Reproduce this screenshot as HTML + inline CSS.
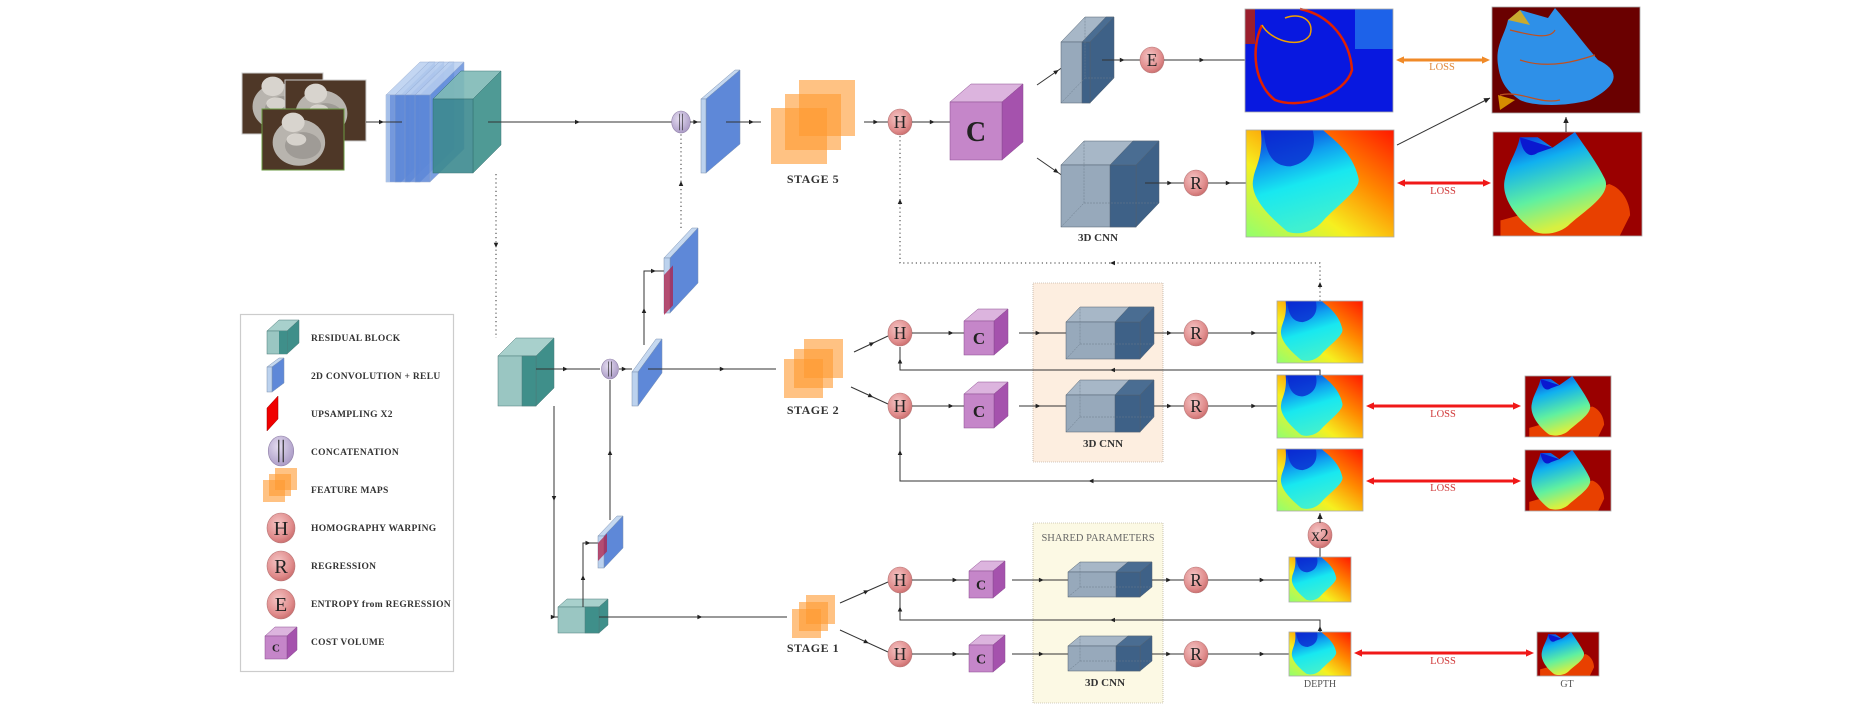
<!DOCTYPE html>
<html><head><meta charset="utf-8">
<style>
html,body{margin:0;padding:0;background:#fff;width:1872px;height:708px;overflow:hidden}
svg{display:block}
text{font-family:"Liberation Serif",serif}
.lg{font-size:9.5px;font-weight:bold;fill:#333;letter-spacing:0.3px}
.st{font-size:12px;font-weight:bold;fill:#333;letter-spacing:0.5px}
.cn{font-size:11px;font-weight:bold;fill:#333}
.loss{font-size:10.5px;fill:#d03838}
.nd{font-size:19px;fill:#222}
</style></head>
<body>
<svg id="s" width="1872" height="708" viewBox="0 0 1872 708" xmlns="http://www.w3.org/2000/svg">
<defs>
<radialGradient id="rg" cx="0.4" cy="0.35" r="0.7"><stop offset="0" stop-color="#f4c4c4"/><stop offset="0.7" stop-color="#e08c8c"/><stop offset="1" stop-color="#c86a6a"/></radialGradient>
<radialGradient id="pg" cx="0.4" cy="0.35" r="0.7"><stop offset="0" stop-color="#e4dcf0"/><stop offset="1" stop-color="#a898c4"/></radialGradient>
<linearGradient id="bgd" x1="1" y1="0" x2="0" y2="1"><stop offset="0" stop-color="#ff1800"/><stop offset="0.35" stop-color="#ff8a00"/><stop offset="0.65" stop-color="#f6f020"/><stop offset="1" stop-color="#90ff70"/></linearGradient>
<linearGradient id="blb" x1="0" y1="0" x2="0.3" y2="1"><stop offset="0" stop-color="#0a20d8"/><stop offset="0.35" stop-color="#10a0f0"/><stop offset="0.6" stop-color="#18e8f0"/><stop offset="1" stop-color="#40f0d0"/></linearGradient>
<linearGradient id="blg" x1="0" y1="0" x2="0.3" y2="1"><stop offset="0" stop-color="#0a20d8"/><stop offset="0.35" stop-color="#10b0f0"/><stop offset="0.7" stop-color="#60f0a0"/><stop offset="1" stop-color="#d8f040"/></linearGradient>
<symbol id="dep" viewBox="0 0 100 100" preserveAspectRatio="none">
<rect width="100" height="100" fill="url(#bgd)"/>
<path d="M10,0 L52,0 C58,8 72,20 76,45 C78,55 62,70 52,85 C46,95 36,99 28,95 C15,80 2,62 5,45 C6,35 12,25 10,0 Z" fill="url(#blb)"/>
<path d="M12,0 L45,0 C48,15 44,30 30,34 C18,34 13,22 12,0 Z" fill="#0a28d0" opacity="0.8"/>
</symbol>
<symbol id="gt" viewBox="0 0 100 100" preserveAspectRatio="none">
<rect width="100" height="100" fill="#9a0000"/>
<path d="M78,50 C88,55 92,70 92,80 L85,100 L5,100 L5,85 C20,80 60,60 78,50Z" fill="#e84000"/>
<path d="M18,5 L30,5 L40,15 L55,0 C62,15 70,30 75,45 C80,60 62,75 52,88 C46,97 36,100 28,96 C15,82 5,62 8,45 C10,30 16,20 18,5 Z" fill="url(#blg)"/>
<path d="M18,5 L40,15 L30,20 C25,25 20,22 18,5Z" fill="#0a18d0"/>
</symbol>
</defs>
<g id="g"></g>
<!-- texts -->
<text class="st" x="813" y="183" text-anchor="middle">STAGE 5</text>
<text class="st" x="813" y="414" text-anchor="middle">STAGE 2</text>
<text class="st" x="813" y="652" text-anchor="middle">STAGE 1</text>
<text class="cn" x="1098" y="241" text-anchor="middle">3D CNN</text>
<text class="cn" x="1103" y="447" text-anchor="middle">3D CNN</text>
<text class="cn" x="1105" y="686" text-anchor="middle">3D CNN</text>
<text class="loss" x="1442" y="70" text-anchor="middle" style="fill:#e0883a">LOSS</text>
<text class="loss" x="1443" y="194" text-anchor="middle">LOSS</text>
<text class="loss" x="1443" y="417" text-anchor="middle">LOSS</text>
<text class="loss" x="1443" y="491" text-anchor="middle">LOSS</text>
<text class="loss" x="1443" y="664" text-anchor="middle">LOSS</text>
<text x="1098" y="541" text-anchor="middle" style="font-size:10.5px;fill:#666">SHARED PARAMETERS</text>
<text x="1320" y="687" text-anchor="middle" style="font-size:10px;fill:#555">DEPTH</text>
<text x="1567" y="687" text-anchor="middle" style="font-size:10px;fill:#555">GT</text>
<text class="lg" x="311" y="341">RESIDUAL BLOCK</text>
<text class="lg" x="311" y="379">2D CONVOLUTION + RELU</text>
<text class="lg" x="311" y="417">UPSAMPLING X2</text>
<text class="lg" x="311" y="455">CONCATENATION</text>
<text class="lg" x="311" y="493">FEATURE MAPS</text>
<text class="lg" x="311" y="531">HOMOGRAPHY WARPING</text>
<text class="lg" x="311" y="569">REGRESSION</text>
<text class="lg" x="311" y="607">ENTROPY from REGRESSION</text>
<text class="lg" x="311" y="645">COST VOLUME</text>
<g id="t"></g>
</svg>
<script>
var o='',t='';
function P(pts,f,ex){return '<polygon points="'+pts.map(function(p){return p[0]+','+p[1]}).join(' ')+'" fill="'+f+'" '+(ex||'')+'/>';}
function box(x,y,w,h,dx,dy,fr,tp,sd,st,op){
 st=st||'#556'; var a='stroke="'+st+'" stroke-width="0.5" '+(op?'opacity="'+op+'"':'');
 return P([[x,y],[x+dx,y-dy],[x+w+dx,y-dy],[x+w,y]],tp,a)+P([[x+w,y],[x+w+dx,y-dy],[x+w+dx,y+h-dy],[x+w,y+h]],sd,a)+'<rect x="'+x+'" y="'+y+'" width="'+w+'" height="'+h+'" fill="'+fr+'" '+a+'/>';
}
function cnn(x,y,w,h,dx,dy,wl){
 var s=box(x,y,w,h,dx,dy,'#97a9bb','#a7b7c7','#3e6187','#506070');
 s+='<rect x="'+(x+wl)+'" y="'+y+'" width="'+(w-wl)+'" height="'+h+'" fill="#3e6187" stroke="#506070" stroke-width="0.5"/>';
 s+=P([[x+wl,y],[x+wl+dx,y-dy],[x+w+dx,y-dy],[x+w,y]],'#4a6d92','stroke="#506070" stroke-width="0.5"');
 s+='<path d="M'+x+','+(y+h)+' l'+dx+','+(-dy)+' l0,'+(-h)+' M'+(x+dx)+','+(y+h-dy)+' l'+w+',0" stroke="#6a7a8a" stroke-width="0.5" stroke-dasharray="2,1" fill="none"/>';
 return s;
}
function cv(x,y,w,h,dx,dy,fs){
 var s=box(x,y,w,h,dx,dy,'#c586c9','#dcb4de','#a552ad','#8a4a90');
 t+='<text x="'+(x+w/2)+'" y="'+(y+h/2+fs*0.35)+'" text-anchor="middle" style="font-size:'+fs+'px;font-weight:bold;fill:#222;font-family:Liberation Serif,serif">C</text>';
 return s;
}
function conv(x,y,w,h,dx,dy){return box(x,y,w,h,dx,dy,'#bcd2ee','#c5d8f0','#5e88d8','#7a90b0');}
function up(x,y,h,dx,dy,rx,ry,rw,rh){
 var s=conv(x,y,6,h,dx,dy);
 s+=P([[rx,ry],[rx+rw,ry-rw*dy/dx],[rx+rw,ry-rw*dy/dx+rh],[rx,ry+rh]],'#b02048','opacity="0.75"');
 return s;
}
function fm(x,y,s,d){var r='';for(var i=0;i<3;i++)r+='<rect x="'+(x+i*d)+'" y="'+(y-i*d)+'" width="'+s+'" height="'+s+'" fill="#ff9a30" opacity="0.6"/>';return r;}
function node(x,y,L,r,fill){fill=fill||'url(#rg)';r=r||12;
 t+='<text x="'+x+'" y="'+(y+r*0.5)+'" text-anchor="middle" style="font-size:'+(r*1.45)+'px;fill:#222;font-family:Liberation Serif,serif">'+L+'</text>';
 return '<ellipse cx="'+x+'" cy="'+y+'" rx="'+r+'" ry="'+(r+1)+'" fill="'+fill+'" stroke="#b87878" stroke-width="0.6"/>';}
function cat(x,y,r){return '<ellipse cx="'+x+'" cy="'+y+'" rx="'+r*0.85+'" ry="'+r+'" fill="url(#pg)" stroke="#9080a8" stroke-width="0.6"/><path d="M'+(x-r*0.15)+','+(y-r*0.75)+' v'+(r*1.5)+' M'+(x+r*0.15)+','+(y-r*0.75)+' v'+(r*1.5)+'" stroke="#333" stroke-width="'+(r>12?1.2:0.7)+'"/>';}
function ah(x,y,ang,c,sz){sz=sz||5;var a=ang,p1=[x,y],p2=[x-sz*Math.cos(a)+sz*0.45*Math.sin(a),y-sz*Math.sin(a)-sz*0.45*Math.cos(a)],p3=[x-sz*Math.cos(a)-sz*0.45*Math.sin(a),y-sz*Math.sin(a)+sz*0.45*Math.cos(a)];
 return P([p1,p2,p3],c||'#222');}
function L(pts,opts){opts=opts||{};var c=opts.c||'#333',d='M'+pts.map(function(p){return p[0]+','+p[1]}).join(' L');
 var s='<path d="'+d+'" fill="none" stroke="'+c+'" stroke-width="'+(opts.w||1)+'" '+(opts.dot?'stroke-dasharray="1.2,3"':'')+'/>';
 (opts.mid||[0]).forEach(function(i){if(i<0)return;var a=pts[i],b=pts[i+1];var ang=Math.atan2(b[1]-a[1],b[0]-a[0]);var f=opts.f!==undefined?opts.f:0.55;s+=ah(a[0]+(b[0]-a[0])*f,a[1]+(b[1]-a[1])*f,ang,'#222');});
 if(opts.end){var a=pts[pts.length-2],b=pts[pts.length-1];s+=ah(b[0],b[1],Math.atan2(b[1]-a[1],b[0]-a[0]),'#222',6);}
 return s;}
function loss(x1,x2,y,c){return '<line x1="'+(x1+5)+'" y1="'+y+'" x2="'+(x2-5)+'" y2="'+y+'" stroke="'+c+'" stroke-width="3"/>'+ah(x2,y,0,c,8)+ah(x1,y,Math.PI,c,8);}
function img(id,x,y,w,h){return '<svg x="'+x+'" y="'+y+'" width="'+w+'" height="'+h+'" viewBox="0 0 100 100" preserveAspectRatio="none"><use href="#'+id+'" width="100" height="100"/></svg><rect x="'+x+'" y="'+y+'" width="'+w+'" height="'+h+'" fill="none" stroke="#aaa" stroke-width="0.8"/>';}
function photo(x,y,w,h,b){return '<rect x="'+x+'" y="'+y+'" width="'+w+'" height="'+h+'" fill="#4e3727" stroke="'+(b||'#ccc')+'" stroke-width="1"/>'+
 '<ellipse cx="'+(x+w*0.45)+'" cy="'+(y+h*0.55)+'" rx="'+w*0.32+'" ry="'+h*0.38+'" fill="#b8b4ae"/>'+
 '<ellipse cx="'+(x+w*0.38)+'" cy="'+(y+h*0.22)+'" rx="'+w*0.14+'" ry="'+h*0.16+'" fill="#d8d4ce"/>'+
 '<ellipse cx="'+(x+w*0.5)+'" cy="'+(y+h*0.6)+'" rx="'+w*0.22+'" ry="'+h*0.22+'" fill="#8e8a86" opacity="0.6"/>'+
 '<ellipse cx="'+(x+w*0.42)+'" cy="'+(y+h*0.5)+'" rx="'+w*0.12+'" ry="'+h*0.1+'" fill="#e4e0da" opacity="0.8"/>';}

// panels
o+='<rect x="1033" y="283" width="130" height="179" fill="#fdeee0" stroke="#a89888" stroke-width="0.6" stroke-dasharray="1,1"/>';
o+='<rect x="1033" y="523" width="130" height="180" fill="#fcf9e4" stroke="#a8a088" stroke-width="0.6" stroke-dasharray="1,1"/>';
o+='<rect x="240.5" y="314.5" width="213" height="357" fill="#fff" stroke="#ccc" stroke-width="1.2"/>';

// photos
o+=photo(242,73,81,61)+photo(285,80,81,61)+photo(262,109,82,61,'#6a9a40');
// blue stack + teal
[386,395,405,415].forEach(function(x){o+=box(x,95,15,87,34,33,'#5c87d8','#b9cff0','#6690dc','#8aa0c8','0.85');});
o+='<rect x="386" y="95" width="4" height="87" fill="#bcd2ee" opacity="0.7"/>';
o+=box(433,99,40,74,28,28,'#3d8a90','#7fbab6','#3d908a','#2d6a6a','0.9');
// top line
o+=L([[366,122],[402,122]],{f:0.5});
o+=L([[488,122],[672,122]],{f:0.5});
o+=cat(681,122,11);
o+=L([[690,122],[704,122]],{f:0.6});
o+=conv(701,99,5,74,34,29);
o+=L([[726,122],[761,122]],{f:0.8});
o+=fm(771,108,56,14);
o+=L([[864,122],[888,122]],{f:0.6});
o+=node(900,122,'H');
o+=L([[912,122],[950,122]],{f:0.6});
o+=cv(950,102,52,58,21,18,28);
// branches
o+=L([[1037,85],[1073,60]],{f:0.6});
o+=L([[1037,158],[1073,183]],{f:0.6});
o+=cnn(1061,42,29,61,24,25,21);
o+=L([[1102,60],[1140,60]],{f:0.6});
o+=node(1152,60,'E');
o+=L([[1164,60],[1245,60]],{f:0.5});
o+=cnn(1061,165,75,62,23,24,49);
o+=L([[1145,183],[1184,183]],{f:0.7});
o+=node(1196,183,'R');
o+=L([[1208,183],[1246,183]],{f:0.6});
// entropy image
o+='<rect x="1245" y="9" width="148" height="103" fill="#0818e0"/>';
o+='<path d="M1300,9 C1330,15 1350,40 1352,70 C1345,95 1300,110 1275,100 C1255,85 1250,50 1262,25" fill="none" stroke="#e02000" stroke-width="2.5"/>';
o+='<path d="M1262,25 C1270,40 1300,50 1310,35 C1315,20 1300,12 1285,18" fill="none" stroke="#f0a000" stroke-width="1.5"/>';
o+='<rect x="1245" y="9" width="10" height="35" fill="#c02000" opacity="0.8"/>';
o+='<rect x="1355" y="9" width="38" height="40" fill="#30a0f0" opacity="0.55"/>';
o+='<rect x="1245" y="9" width="148" height="103" fill="none" stroke="#aaa" stroke-width="0.8"/>';
// entropy gt
o+='<rect x="1492" y="7" width="148" height="106" fill="#6a0000"/>';
o+='<path d="M1508,20 L1520,10 L1548,18 L1555,8 C1570,25 1585,45 1598,60 C1620,70 1620,85 1590,100 C1560,108 1530,105 1520,100 C1505,90 1500,80 1498,65 C1495,45 1505,35 1508,20Z" fill="#2e90e8"/>';
o+='<path d="M1510,30 C1530,35 1550,40 1555,30 M1520,60 C1550,70 1580,60 1595,55 M1500,95 C1520,90 1540,105 1560,100" stroke="#c05020" stroke-width="1.2" fill="none"/>';
o+='<path d="M1508,20 L1520,10 L1530,25 Z M1498,95 L1515,100 L1500,110Z" fill="#f0b000" opacity="0.8"/>';
o+='<rect x="1492" y="7" width="148" height="106" fill="none" stroke="#aaa" stroke-width="0.8"/>';
o+=img('dep',1246,130,148,107)+img('gt',1493,132,149,104);
o+=loss(1396,1490,60,'#f08a28')+loss(1397,1491,183,'#f01818');
o+=L([[1397,145],[1490,98]],{mid:[-1],end:true});
o+=L([[1566,132],[1566,117]],{mid:[-1],end:true});
// dotted
o+=L([[496,174],[496,338]],{dot:true,f:0.45});
o+=L([[681,228],[681,134]],{dot:true,f:0.5});
o+=L([[1320,301],[1320,263],[900,263],[900,135]],{dot:true,mid:[0,1,2],f:0.5});

// stage 2
o+=box(498,356,38,50,18,18,'#9ac6c2','#a8d0cc','#3f8f8a','#4a7a78');
o+='<rect x="522" y="356" width="14" height="50" fill="#3f8f8a" stroke="#4a7a78" stroke-width="0.5"/>';
o+=L([[536,369],[600,369]],{f:0.5});
o+=cat(610,369,10);
o+=L([[619,369],[632,369]],{f:0.6});
o+=conv(632,372,6,34,24,33);
o+=L([[648,369],[776,369]],{f:0.6});
o+=L([[644,345],[644,271],[668,271]],{mid:[0,1],f:0.5});
o+=up(664,258,55,28,30,664,275,9,40);
o+=fm(784,359,39,10);
o+=L([[854,352],[888,336]],{f:0.6});
o+=L([[851,387],[888,404]],{f:0.6});
[[333,0],[406,1]].forEach(function(r){var y=r[0];
 o+=node(900,y,'H');
 o+=L([[912,y],[964,y]],{f:0.8});
 o+=cv(964,y-12,30,34,14,12,17);
 o+=L([[1019,y],[1073,y]],{f:0.4});
 o+=cnn(1066,y-11,74,37,14,15,49);
 o+=L([[1154,y],[1184,y]],{f:0.6});
 o+=node(1196,y,'R');
 o+=L([[1208,y],[1277,y]],{f:0.7});
});
o+=img('dep',1277,301,86,62)+img('dep',1277,375,86,63);
o+=L([[1320,375],[1320,370],[900,370],[900,347]],{mid:[1,2],f:0.5});
o+=img('dep',1277,449,86,62);
o+=L([[1277,481],[900,481],[900,419]],{mid:[0,1],f:0.5});
o+=img('gt',1525,376,86,61)+img('gt',1525,450,86,61);
o+=loss(1366,1521,406,'#f01818')+loss(1366,1521,481,'#f01818');
o+=L([[1320,557],[1320,547]],{mid:[-1]});
o+=node(1320,535,'x2',12);
o+=L([[1320,523],[1320,513]],{mid:[-1],end:true});

// stage 1
o+=L([[554,406],[554,617],[558,617]],{mid:[0,1],f:0.45});
o+=box(558,607,41,26,9,8,'#9ac6c2','#a8d0cc','#3f8f8a','#4a7a78');
o+='<rect x="585" y="607" width="14" height="26" fill="#3f8f8a" stroke="#4a7a78" stroke-width="0.5"/>';
o+=L([[583,607],[583,543],[598,543]],{mid:[0,1],f:0.5});
o+=up(598,536,32,19,20,598,543,9,18);
o+=L([[610,520],[610,380]],{f:0.5});
o+=L([[599,617],[787,617]],{f:0.55});
o+=fm(792,609,29,7);
o+=L([[840,603],[888,582]],{f:0.6});
o+=L([[840,630],[888,652]],{f:0.6});
[580,654].forEach(function(y){
 o+=node(900,y,'H');
 o+=L([[912,y],[969,y]],{f:0.8});
 o+=cv(969,y-9,24,27,12,10,14);
 o+=L([[1012,y],[1070,y]],{f:0.55});
 o+=cnn(1068,y-8,72,25,12,10,48);
 o+=L([[1152,y],[1184,y]],{f:0.6});
 o+=node(1196,y,'R');
 o+=L([[1208,y],[1289,y]],{f:0.7});
});
o+=img('dep',1289,557,62,45)+img('dep',1289,632,62,44);
o+=L([[1320,632],[1320,620],[900,620],[900,593]],{mid:[0,1,2],f:0.5});
o+=img('gt',1537,632,62,44);
o+=loss(1354,1534,653,'#f01818');

// legend icons
o+=box(267,331,20,23,12,11,'#9ac6c2','#a8d0cc','#3f8f8a','#4a7a78');
o+='<rect x="279" y="331" width="8" height="23" fill="#3f8f8a"/>';
o+=conv(267,367,5,25,12,9);
o+=P([[267,408],[278,396],[278,419],[267,431]],'#f00000','stroke="#900" stroke-width="0.5"');
o+=cat(281,451,15);
o+=fm(263,480,22,6);
o+=node(281,528,'H',14)+node(281,566,'R',14)+node(281,604,'E',14);
o+=cv(265,636,22,23,10,9,11);

document.getElementById('g').innerHTML=o;
document.getElementById('t').innerHTML=t;
</script>
</body></html>
